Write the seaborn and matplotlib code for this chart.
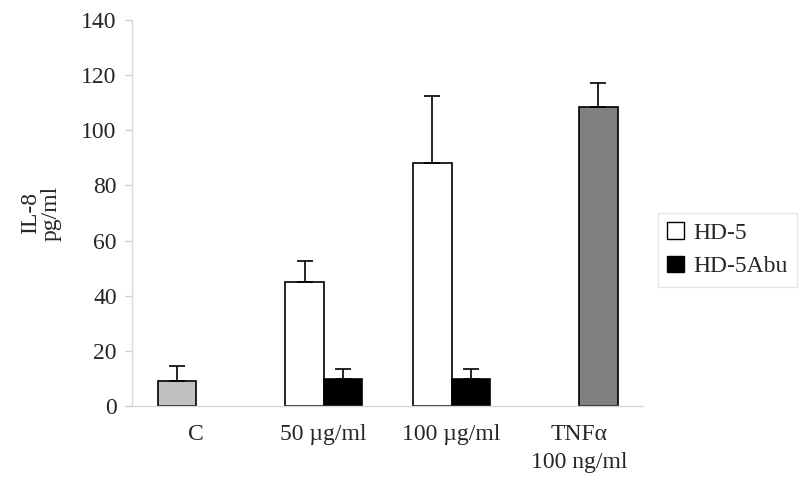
import pandas as pd
import matplotlib
matplotlib.use('Agg')
import matplotlib.pyplot as plt
import seaborn as sns
from matplotlib.patches import Patch

# values
categories = ['C', '50 µg/ml', '100 µg/ml', 'TNFα\n100 ng/ml']
series = ['HD-5', 'HD-5Abu']
bar_category = ['C', '50 µg/ml', '100 µg/ml', '50 µg/ml', '100 µg/ml', 'TNFα\n100 ng/ml']
bar_series = ['HD-5', 'HD-5', 'HD-5', 'HD-5Abu', 'HD-5Abu', 'HD-5Abu']
bar_value = [9.2, 45, 88, 9.8, 9.8, 108.6]
bar_error = [5.3, 7.7, 24.3, 3.6, 3.6, 8.5]
# special fills for the control and TNFa bars
bar_fill = ['#c0c0c0', 'white', 'white', 'black', 'black', '#808080']

df = pd.DataFrame({'Category': bar_category, 'Series': bar_series,
                   'Value': bar_value, 'Error': bar_error, 'Fill': bar_fill})

sns.set_style('white')
plt.rcParams['font.family'] = ['Liberation Serif', 'DejaVu Serif']

fig = plt.figure(figsize=(8, 4.83), dpi=100)
ax = fig.add_axes([0.165, 0.1594, 0.639, 0.7992])

sns.barplot(data=df, x='Category', y='Value', hue='Series', order=categories,
            hue_order=series, palette={'HD-5': 'white', 'HD-5Abu': 'black'},
            width=0.6, errorbar=None, edgecolor='black', linewidth=1.2,
            legend=False, ax=ax)

# recolour bars and add upper-only error bars
for level, container in zip(series, ax.containers):
    rows = df[df['Series'] == level].copy()
    rows['pos'] = rows['Category'].map(categories.index)
    rows = rows.sort_values('pos')
    for bar, (_, r) in zip(container, rows.iterrows()):
        bar.set_facecolor(r['Fill'])
        xc = bar.get_x() + bar.get_width() / 2
        ax.errorbar(xc, r['Value'], yerr=[[0], [r['Error']]], fmt='none',
                    ecolor='black', elinewidth=1.2, capsize=6, capthick=1.2, zorder=1)

ax.set_ylim(0, 140)
ax.set_yticks(range(0, 141, 20))
ax.set_xlim(-0.5, 3.5)
ax.set_xticks([-0.5, 0.5, 1.5, 2.5, 3.5])
ax.set_xticklabels([])
ax.set_xticks(range(len(categories)), minor=True)
ax.set_xticklabels(categories, minor=True, linespacing=1.45)
ax.tick_params(axis='x', which='major', length=5, color='#d0d0d0', width=1)
ax.tick_params(axis='x', which='minor', length=0, labelsize=17, pad=13)
ax.tick_params(axis='y', length=5, color='#d0d0d0', width=1, labelsize=17, left=True, pad=6)

for s in ['top', 'right']:
    ax.spines[s].set_visible(False)
for s in ['left', 'bottom']:
    ax.spines[s].set_color('#d9d9d9')
    ax.spines[s].set_linewidth(1)

ax.set_xlabel('')
ax.set_ylabel('IL-8\npg/ml', fontsize=17, linespacing=1.0)
ax.yaxis.set_label_coords(-0.137, 0.5)

handles = [Patch(facecolor='white', edgecolor='black', label='HD-5'),
           Patch(facecolor='black', edgecolor='black', label='HD-5Abu')]
leg = fig.legend(handles=handles, loc='upper left', bbox_to_anchor=(0.8225, 0.559),
                 fontsize=17, handlelength=0.7, handleheight=0.7, handletextpad=0.4,
                 labelspacing=0.5, fancybox=False, frameon=True, borderpad=0.4,
                 borderaxespad=0)
leg.get_frame().set_edgecolor('#e0e0e0')
leg.get_frame().set_linewidth(1)

fig.savefig('out.png', dpi=100)
